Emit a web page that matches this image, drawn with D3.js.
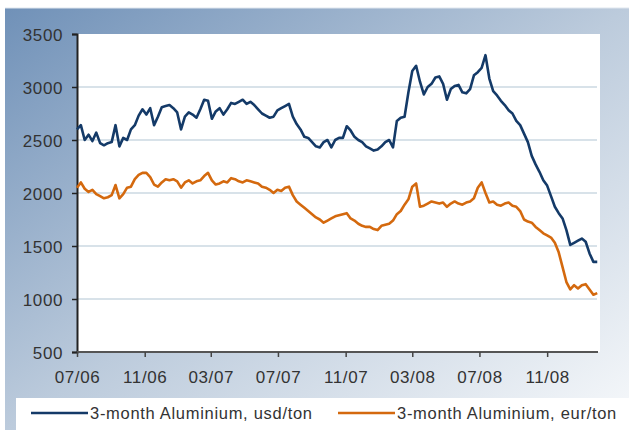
<!DOCTYPE html>
<html>
<head>
<meta charset="utf-8">
<script src="https://cdn.jsdelivr.net/npm/d3@7"></script>
<style>
  body { margin: 0; background: #fff; }
  svg { display: block; font-family: "Liberation Sans", Arial, sans-serif; }
</style>
</head>
<body>
<script>
// weekly samples, first one on 1 July 2006
var startDate = "2006-07-01";

var usdValues = [
  2600, 2640, 2500, 2550, 2490, 2570, 2470, 2450, 2470, 2480,
  2640, 2440, 2520, 2500, 2600, 2640, 2730, 2790, 2740, 2800,
  2640, 2720, 2810, 2820, 2830, 2800, 2760, 2600, 2720, 2760,
  2740, 2710, 2790, 2880, 2870, 2700, 2770, 2800, 2740, 2790,
  2850, 2840, 2860, 2880, 2840, 2860, 2830, 2790, 2750, 2730,
  2710, 2720, 2780, 2800, 2820, 2840, 2720, 2650, 2600, 2530,
  2520, 2480, 2440, 2430, 2480, 2500, 2430, 2500, 2520, 2520,
  2630, 2590, 2530, 2500, 2480, 2440, 2420, 2400, 2410, 2440,
  2480, 2500, 2430, 2680, 2710, 2720, 2950, 3150, 3200, 3050,
  2930, 3000, 3030, 3090, 3100, 3030, 2880, 2980, 3010, 3020,
  2950, 2940, 2980, 3110, 3140, 3180, 3300, 3080, 2960, 2920,
  2870, 2830, 2780, 2750, 2680, 2640, 2560, 2480, 2350, 2270,
  2200, 2120, 2070, 1970, 1870, 1810, 1760, 1650, 1510, 1530,
  1550, 1570, 1540, 1430, 1350, 1350
];

var eurValues = [
  2050, 2100, 2040, 2010, 2030, 1990, 1970, 1950, 1960, 1980,
  2075, 1950, 1990, 2050, 2060, 2130, 2170, 2190, 2190, 2150,
  2080, 2060, 2100, 2130, 2120, 2130, 2110, 2050, 2100, 2120,
  2090, 2110, 2120, 2160, 2190, 2120, 2080, 2090, 2110, 2100,
  2140, 2130, 2110, 2100, 2120, 2110, 2100, 2090, 2060, 2050,
  2030, 2000, 2030, 2020, 2050, 2060, 1980, 1920, 1890, 1860,
  1830, 1800, 1770, 1750, 1720, 1740, 1760, 1780, 1790, 1800,
  1810, 1760, 1740, 1710, 1690, 1680, 1680, 1660, 1650, 1690,
  1700, 1710, 1740, 1800, 1830, 1890, 1940, 2060, 2090, 1870,
  1880, 1900, 1920, 1910, 1900, 1910, 1870, 1900, 1920, 1900,
  1890, 1910, 1920, 1950, 2050, 2100, 2000, 1910, 1920, 1890,
  1880, 1900, 1910, 1880, 1870, 1830, 1750, 1730, 1720, 1680,
  1650, 1620, 1600, 1580, 1530, 1440, 1300, 1160, 1090, 1130,
  1100, 1130, 1140, 1090, 1040, 1055
];

var yTicks = [500, 1000, 1500, 2000, 2500, 3000, 3500];
var gridValues = [1000, 1500, 2000, 2500, 3000];
var xTickDates = ["2006-07-01", "2006-11-01", "2007-03-01", "2007-07-01",
                  "2007-11-01", "2008-03-01", "2008-07-01", "2008-11-01"];
var seriesNames = ["3-month Aluminium, usd/ton", "3-month Aluminium, eur/ton"];
var seriesColors = ["#143a68", "#d4690e"];

var W = 629, H = 430;
var plot = { left: 77, right: 600, top: 34, bottom: 352 };

var parse = d3.utcParse("%Y-%m-%d");
var start = parse(startDate);
var dates = usdValues.map(function (d, i) { return d3.utcDay.offset(start, 7 * i); });

var svg = d3.select("body").append("svg")
  .attr("width", W)
  .attr("height", H);

// background frame with the blue fade
var defs = svg.append("defs");
var grad = defs.append("linearGradient")
  .attr("id", "frameFade")
  .attr("x1", "0%").attr("y1", "0%")
  .attr("x2", "100%").attr("y2", "100%");
grad.append("stop").attr("offset", "0%").attr("stop-color", "#7091b8");
grad.append("stop").attr("offset", "50%").attr("stop-color", "#bccbdc");
grad.append("stop").attr("offset", "100%").attr("stop-color", "#f7f9fb");

svg.append("rect")
  .attr("x", 5).attr("y", 8)
  .attr("width", W - 5).attr("height", H - 8)
  .attr("fill", "url(#frameFade)");
svg.append("line")
  .attr("x1", 5).attr("x2", W).attr("y1", 8).attr("y2", 8)
  .attr("stroke", "#dfe6ee").attr("stroke-width", 1);

svg.append("rect")
  .attr("x", plot.left).attr("y", plot.top)
  .attr("width", plot.right - plot.left).attr("height", plot.bottom - plot.top)
  .attr("fill", "#fff");

var x = d3.scaleUtc()
  .domain([parse("2006-07-01"), parse("2009-02-05")])
  .range([plot.left, plot.right]);

var y = d3.scaleLinear()
  .domain([500, 3500])
  .range([plot.bottom, plot.top]);

// gridlines
svg.append("g").selectAll("line")
  .data(gridValues)
  .enter().append("line")
  .attr("x1", plot.left).attr("x2", plot.right - 3)
  .attr("y1", function (d) { return y(d); })
  .attr("y2", function (d) { return y(d); })
  .attr("stroke", "#cbd9e2")
  .attr("stroke-width", 1.5);

// y axis
var yAxis = svg.append("g")
  .attr("transform", "translate(" + plot.left + ",0)")
  .call(d3.axisLeft(y).tickValues(yTicks).tickSize(5).tickPadding(9).tickFormat(d3.format("d")));
yAxis.select(".domain").attr("stroke", "#222").attr("stroke-width", 2);
yAxis.selectAll(".tick line").attr("stroke", "#222").attr("stroke-width", 1.5);
yAxis.selectAll("text")
  .attr("fill", "#333")
  .attr("font-size", "17px")
  .attr("letter-spacing", "0.6px")
  .attr("dy", "0.36em");

// x axis
var xAxis = svg.append("g")
  .attr("transform", "translate(0," + plot.bottom + ")")
  .call(d3.axisBottom(x).tickValues(xTickDates.map(parse)).tickSize(5).tickPadding(14)
    .tickFormat(d3.utcFormat("%m/%y")));
xAxis.select(".domain")
  .attr("d", "M" + plot.left + ",0H" + (plot.right - 2))
  .attr("stroke", "#555").attr("stroke-width", 2);
xAxis.selectAll(".tick line").attr("stroke", "#444").attr("stroke-width", 1.5);
xAxis.selectAll("text")
  .attr("fill", "#333")
  .attr("font-size", "17px")
  .attr("letter-spacing", "0.6px");

// series lines
var line = d3.line()
  .x(function (d) { return x(d.date); })
  .y(function (d) { return y(d.value); });

[usdValues, eurValues].forEach(function (vals, k) {
  var pts = vals.map(function (v, i) { return { date: dates[i], value: v }; });
  svg.append("path")
    .datum(pts)
    .attr("d", line)
    .attr("fill", "none")
    .attr("stroke", seriesColors[k])
    .attr("stroke-width", 2.6)
    .attr("stroke-linejoin", "round");
});

// legend
svg.append("rect")
  .attr("x", 16).attr("y", 398)
  .attr("width", W - 16).attr("height", H - 398)
  .attr("fill", "#fff");

var legendX = [31, 338];
var legend = svg.append("g").selectAll("g")
  .data(seriesNames)
  .enter().append("g")
  .attr("transform", function (d, i) { return "translate(" + legendX[i] + ",413)"; });
legend.append("line")
  .attr("x1", 0).attr("x2", 57)
  .attr("stroke", function (d, i) { return seriesColors[i]; })
  .attr("stroke-width", 2.4);
legend.append("text")
  .attr("x", 59).attr("y", 5.5)
  .attr("fill", "#333")
  .attr("font-size", "16.5px")
  .attr("letter-spacing", "0.7px")
  .text(function (d) { return d; });
</script>
</body>
</html>
